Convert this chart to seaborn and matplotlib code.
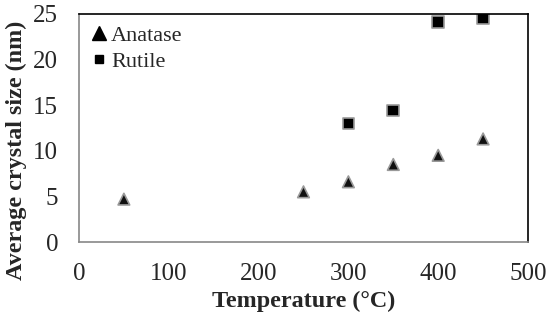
import matplotlib
matplotlib.use("Agg")
import matplotlib.pyplot as plt
import seaborn as sns
import pandas as pd
from matplotlib.lines import Line2D

anatase_temp = [50, 250, 300, 350, 400, 450]
anatase_size = [4.7, 5.5, 6.6, 8.5, 9.5, 11.3]
rutile_temp = [300, 350, 400, 450]
rutile_size = [13.0, 14.4, 24.1, 24.5]

df = pd.DataFrame({
    "Temperature": anatase_temp + rutile_temp,
    "Size": anatase_size + rutile_size,
    "Phase": ["Anatase"] * len(anatase_temp) + ["Rutile"] * len(rutile_temp),
})

sns.set_style("white")
plt.rcParams['font.family'] = ['Liberation Serif', 'DejaVu Serif']

fig = plt.figure(figsize=(5.5, 3.24), dpi=100)
ax = fig.add_axes([0.1436, 0.253, 0.8164, 0.704])

sns.scatterplot(data=df, x="Temperature", y="Size", hue="Phase", style="Phase",
                markers={"Anatase": "^", "Rutile": "s"},
                palette={"Anatase": "#111111", "Rutile": "#000000"},
                s=70, edgecolor="#999999", linewidth=1.2, ax=ax, legend=False)

ax.set_xlim(0, 500)
ax.set_ylim(0, 25)
ax.set_xticks([0, 100, 200, 300, 400, 500])
ax.set_yticks([0, 5, 10, 15, 20, 25])
ax.tick_params(axis='both', direction='in', length=5, width=1, color='#888888',
               labelsize=18)
ax.tick_params(axis='y', pad=15)
ax.tick_params(axis='x', pad=15)
for side in ['left', 'bottom']:
    ax.spines[side].set_color('#888888')
    ax.spines[side].set_linewidth(1.2)
for side in ['top', 'right']:
    ax.spines[side].set_color('#000000')
    ax.spines[side].set_linewidth(1.2)
    ax.spines[side].set_visible(True)

ax.set_xlabel("Temperature (°C)", fontsize=17.4, fontweight='bold')
ax.xaxis.set_label_coords(0.5, -0.215)
ax.set_ylabel("Average crystal size (nm)", fontsize=17.4, fontweight='bold')
ax.yaxis.set_label_coords(-0.116, 0.404)

handles = [Line2D([], [], linestyle='none', marker='^', color='black', markersize=10),
           Line2D([], [], linestyle='none', marker='s', color='black', markersize=6)]
ax.legend(handles, ["Anatase", "Rutile"], loc='upper left', frameon=False, fontsize=16,
          handlelength=0.8, handletextpad=0.15, borderaxespad=0.0, labelspacing=0.25,
          bbox_to_anchor=(0.005, 0.99))

fig.savefig("out.png", dpi=100)
